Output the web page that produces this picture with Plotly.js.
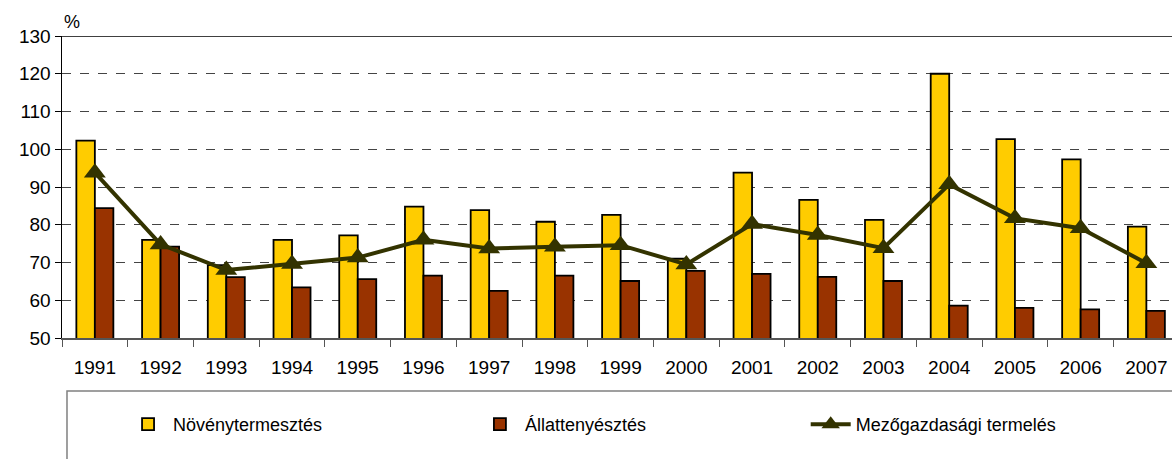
<!DOCTYPE html>
<html>
<head>
<meta charset="utf-8">
<script src="https://cdn.plot.ly/plotly-3.0.1.min.js"></script>
<style>html,body{margin:0;padding:0;background:#fff;overflow:hidden}</style>
</head>
<body>
<div id="chart" style="width:1172px;height:459px"></div>
<script>
const years = ["1991","1992","1993","1994","1995","1996","1997","1998","1999","2000","2001","2002","2003","2004","2005","2006","2007"];
const novenytermesztes = [102.3, 76.0, 69.3, 76.0, 77.2, 84.8, 83.9, 80.8, 82.6, 71.0, 93.8, 86.6, 81.3, 120.0, 102.7, 97.3, 79.5];
const allattenyesztes = [84.4, 74.2, 66.1, 63.4, 65.6, 66.5, 62.5, 66.5, 65.1, 67.8, 67.0, 66.2, 65.1, 58.6, 58.0, 57.6, 57.2];
const mezogazdasagi = [93.8, 74.8, 68.0, 69.6, 71.3, 76.0, 73.7, 74.2, 74.6, 69.5, 80.2, 77.3, 73.8, 90.7, 81.7, 79.1, 69.8];
const seriesNames = ["Növénytermesztés", "Állattenyésztés", "Mezőgazdasági termelés"];

const font = "Liberation Sans, Arial, sans-serif";
const traces = [
  {type:"bar", name:seriesNames[0], x:years, y:novenytermesztes, legend:"legend",
   marker:{color:"#FFCC00", line:{color:"#000000", width:1.8}}},
  {type:"bar", name:seriesNames[1], x:years, y:allattenyesztes, legend:"legend2",
   marker:{color:"#993300", line:{color:"#000000", width:1.8}}},
  {type:"scatter", mode:"lines+markers", name:seriesNames[2], x:years, y:mezogazdasagi, legend:"legend3",
   line:{color:"#333300", width:4},
   marker:{symbol:"triangle-up", size:19, color:"#333300"}}
];

function leg(x){
  return {orientation:"h", x:x, y:-0.225, xanchor:"left", yanchor:"top",
          font:{family:font, size:18, color:"#000000"},
          bgcolor:"rgba(0,0,0,0)", borderwidth:0, itemwidth:40};
}

const layout = {
  width:1172, height:459,
  margin:{l:62, r:0, t:36, b:121, autoexpand:false},
  paper_bgcolor:"#ffffff", plot_bgcolor:"#ffffff",
  font:{family:font, size:19, color:"#000000"},
  barmode:"group", bargap:0.437, bargroupgap:0,
  showlegend:true,
  legend:leg(0.055),
  legend2:leg(0.372),
  legend3:leg(0.670),
  xaxis:{type:"category", range:[-0.5, 16.39], tickson:"boundaries",
         ticks:"outside", ticklen:7, tickcolor:"#555555", tickwidth:1,
         ticklabelstandoff:12,
         showline:true, linecolor:"#555555", linewidth:1.5,
         showgrid:false, zeroline:false, fixedrange:true,
         tickfont:{family:font, size:19}},
  yaxis:{range:[50,130], dtick:10, tick0:50,
         ticks:"outside", ticklen:6, tickcolor:"#000000",
         showline:true, linecolor:"#000000", linewidth:1.5,
         showgrid:true, gridcolor:"#444444", griddash:"dash", gridwidth:1,
         zeroline:false, fixedrange:true,
         tickfont:{family:font, size:19}},
  shapes:[
    {type:"line", xref:"paper", yref:"y", x0:0, x1:1, y0:130, y1:130,
     line:{color:"#000000", width:1.5}},
    {type:"rect", xref:"paper", yref:"paper", x0:0.0045, x1:1.02, y0:-0.1755, y1:-0.45,
     line:{color:"#808080", width:1.5}, fillcolor:"rgba(0,0,0,0)"}
  ],
  annotations:[
    {text:"%", xref:"paper", yref:"paper", x:0.0, y:1.0, xanchor:"left", yanchor:"bottom",
     xshift:0, yshift:2, showarrow:false, font:{family:font, size:18, color:"#000000"}}
  ]
};

Plotly.newPlot("chart", traces, layout, {displayModeBar:false, staticPlot:true});
</script>
</body>
</html>
